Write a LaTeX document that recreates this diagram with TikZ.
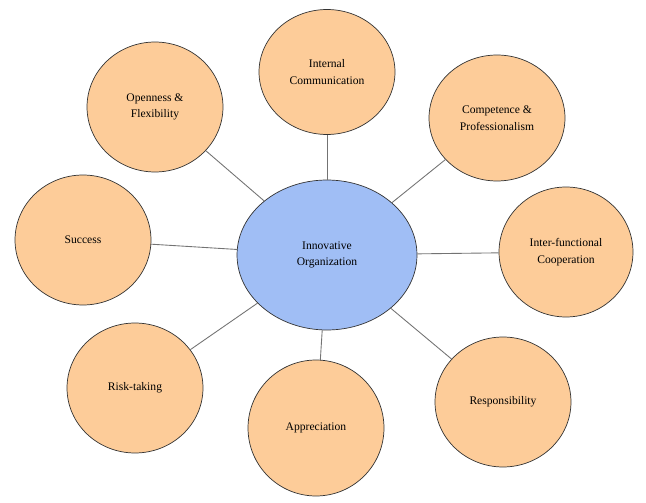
\documentclass[tikz,border=0pt]{standalone}
\usepackage{fontspec}
\setmainfont{Liberation Serif}
\usetikzlibrary{shapes.geometric}
\definecolor{peach}{RGB}{253,204,153}
\definecolor{paleblue}{RGB}{160,190,245}
\begin{document}
\begin{tikzpicture}[x=0.02cm,y=-0.02cm]
	\tikzset{bubble/.style={ellipse, draw=black!80, fill=peach, inner sep=0pt, align=center,
			minimum width=2.72cm, minimum height=2.6cm, font=\fontsize{6.6}{9.5}\selectfont},
		hub/.style={bubble, fill=paleblue, minimum width=3.6cm, minimum height=3cm},
		spoke/.style={draw=black!55, line width=0.5pt}}
	\useasboundingbox (0,0) rectangle (646,503);
	\node [hub] (org) at (327,255) {Innovative\\Organization};
	\node [bubble, minimum height=2.5cm] (comm) at (327,72) {Internal\\Communication};
	\node [bubble] (open) at (155,107) {Openness \&\\Flexibility};
	\node [bubble, minimum height=2.52cm] (comp) at (497,118) {Competence \&\\Professionalism};
	\node [bubble] (succ) at (83,240) {Success};
	\node [bubble, minimum width=2.68cm] (inter) at (566,252) {Inter-functional\\Cooperation};
	\node [bubble] (risk) at (135,388) {Risk-taking};
	\node [bubble, minimum height=2.72cm] (appr) at (316,428) {Appreciation};
	\node [bubble] (resp) at (503,402) {Responsibility};
	\foreach \n in {comm,open,comp,succ,inter,risk,appr,resp}
		\draw [spoke] (org) -- (\n);
\end{tikzpicture}
\end{document}
